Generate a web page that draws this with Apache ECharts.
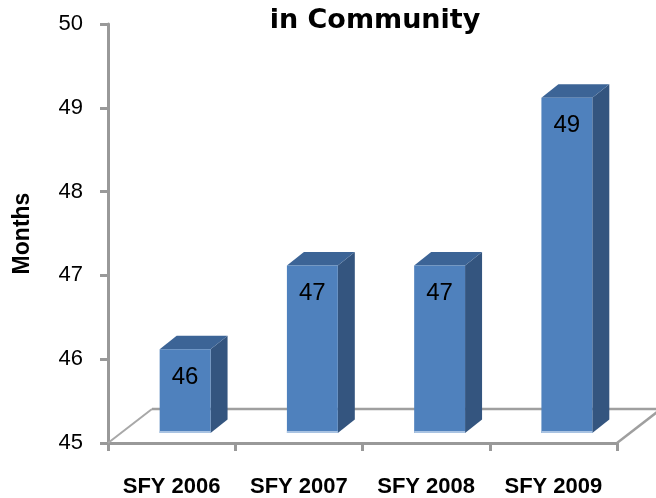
<!DOCTYPE html>
<html lang="en">
<head>
<meta charset="UTF-8">
<title>in Community</title>
<script src="https://cdn.jsdelivr.net/npm/echarts@6/dist/echarts.min.js"></script>
<style>
html, body { margin: 0; padding: 0; background: #fff; }
#chart { width: 656px; height: 498px; }
</style>
</head>
<body>
<div id="chart"></div>
<script type="text/javascript">
// data
var categories = ['SFY 2006', 'SFY 2007', 'SFY 2008', 'SFY 2009'];
var months = [46, 47, 47, 49];
var yMin = 45;
var yMax = 50;
var yStep = 1;

var axisGray = '#999999';

var myChart = echarts.init(document.getElementById('chart'));

// floor of the 3d box, only outlines
function renderFloor(params, api) {
	var cs = params.coordSys;
	var x0 = cs.x, y0 = cs.y + cs.height, x1 = cs.x + cs.width;
	var dx = 44, dy = -34;
	var st = { stroke: '#9F9F9F', lineWidth: 2.5, fill: null };
	return {
		type: 'group',
		children: [
			{ type: 'line', shape: { x1: x0, y1: y0, x2: x0 + dx, y2: y0 + dy }, style: { stroke: '#A8A8A8', lineWidth: 2 } },
			{ type: 'line', shape: { x1: x0 + dx, y1: y0 + dy, x2: x1 + dx, y2: y0 + dy }, style: st },
			{ type: 'line', shape: { x1: x1, y1: y0, x2: x1 + dx, y2: y0 + dy }, style: st }
		]
	};
}

// 3d looking bar: front, side, top faces
function renderBar(params, api) {
	var i = api.value(0);
	var v = api.value(1);
	var base = api.coord([i, yMin]);
	var top = api.coord([i, v]);
	var bw = api.size([1, 0])[0];
	var w = bw * 0.4;
	var cx = base[0] + bw * 0.106;
	var lift = -10;
	var xl = cx - w / 2, xr = cx + w / 2;
	var yb = base[1] + lift, yt = top[1] + lift;
	var dx = 17, dy = -13.5;
	return {
		type: 'group',
		children: [
			{ type: 'polygon', shape: { points: [[xr, yb], [xr + dx, yb + dy], [xr + dx, yt + dy], [xr, yt]] },
				style: { fill: '#34557F' } },
			{ type: 'polygon', shape: { points: [[xl, yt], [xr, yt], [xr + dx, yt + dy], [xl + dx, yt + dy]] },
				style: { fill: '#3C6496' } },
			{ type: 'rect', shape: { x: xl, y: yt, width: w, height: yb - yt },
				style: { fill: '#4F81BD' } },
			{ type: 'rect', shape: { x: xl, y: yb - 2, width: w, height: 2 },
				style: { fill: '#A9C3E2' } },
			{ type: 'text', style: { text: String(v), x: cx, y: yt + 28, align: 'center', verticalAlign: 'middle',
				fill: '#000', font: '24px "Liberation Sans"' } }
		]
	};
}

myChart.setOption({
	animation: false,
	title: {
		text: 'in Community',
		left: 370,
		top: 2,
		textAlign: 'center',
		textStyle: { fontFamily: 'DejaVu Sans', fontWeight: 'bold', fontSize: 27, color: '#000' }
	},
	grid: { left: 108, right: 39, top: 24, bottom: 52 },
	xAxis: {
		type: 'category',
		data: categories,
		axisLine: { lineStyle: { color: axisGray, width: 3 } },
		axisTick: { show: true, length: 8, lineStyle: { color: axisGray, width: 3 } },
		axisLabel: { margin: 33, color: '#000', fontFamily: 'Liberation Sans', fontWeight: 'bold', fontSize: 22 }
	},
	yAxis: {
		type: 'value',
		min: yMin,
		max: yMax,
		interval: yStep,
		name: 'Months',
		nameLocation: 'middle',
		nameGap: 74,
		nameTextStyle: { fontFamily: 'Liberation Sans', fontWeight: 'bold', fontSize: 23, color: '#000' },
		axisLine: { show: true, lineStyle: { color: axisGray, width: 3 } },
		axisTick: { show: true, length: 8, lineStyle: { color: axisGray, width: 3 } },
		splitLine: { show: false },
		axisLabel: { margin: 25, color: '#000', fontFamily: 'Liberation Sans', fontSize: 22 }
	},
	series: [
		{
			type: 'custom',
			renderItem: renderFloor,
			data: [[0, yMin]],
			encode: { x: 0, y: 1 },
			silent: true
		},
		{
			type: 'custom',
			renderItem: renderBar,
			data: months.map(function (v, i) { return [i, v]; }),
			encode: { x: 0, y: 1 }
		}
	]
});
</script>
</body>
</html>
